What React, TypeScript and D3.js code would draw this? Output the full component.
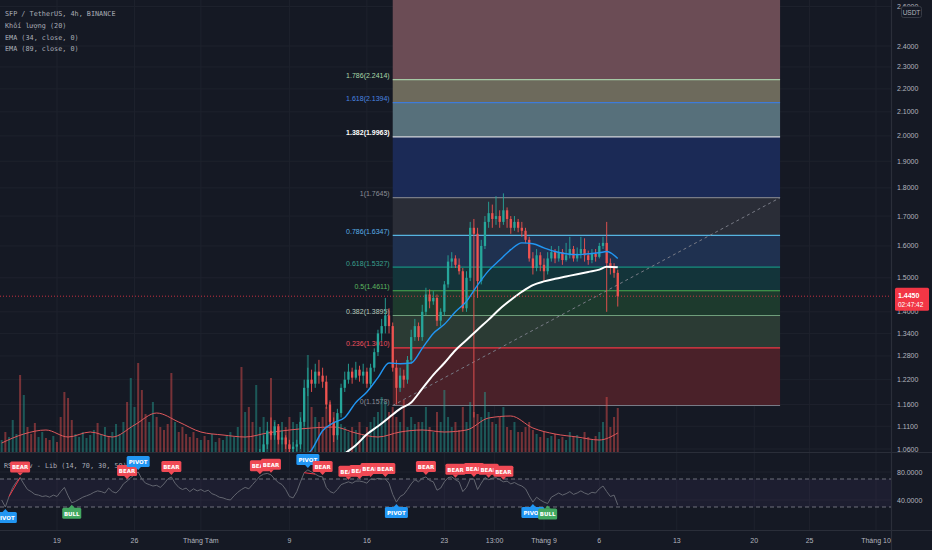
import React from "react";
import * as d3 from "d3";

// ---------- DATA ----------
const candleStart = new Date(2023, 6, 14, 0, 0);
const candleStepHours = 8;

// closes for every 8h candle (index 0..167); early ones sit below the visible price range
const closes = [
  0.975, 0.96, 0.99, 1.005, 1.01, 0.995, 1.0, 0.99, 0.985, 0.98,
  0.985, 0.99, 0.98, 0.975, 0.985, 0.98, 0.97, 0.965, 0.96, 0.955,
  0.965, 0.97, 0.975, 0.98, 0.985, 0.99, 0.985, 0.99, 0.995, 0.99,
  1.0, 1.01, 1.02, 1.03, 1.02, 1.035, 1.04, 1.03, 1.025, 1.02,
  1.03, 1.045, 1.04, 1.03, 1.02, 1.015, 1.01, 1.02, 1.015, 1.005,
  1.0, 0.995, 0.99, 0.985, 0.99, 0.98, 0.975, 0.98, 0.99, 0.985,
  0.995, 1.0, 1.01, 1.02, 1.035, 1.03,
  1.045, 1.04, 1.03, 1.035, 1.04, 1.07, 1.1, 1.09, 1.11, 1.08,
  1.085, 1.07, 1.06, 1.065, 1.07, 1.12, 1.2, 1.22, 1.21, 1.24,
  1.23, 1.215, 1.16, 1.12, 1.09, 1.14, 1.2, 1.22, 1.24, 1.225,
  1.245, 1.23, 1.24, 1.21, 1.25, 1.29, 1.34, 1.36, 1.39, 1.36,
  1.25, 1.2, 1.23, 1.22, 1.27, 1.33, 1.36, 1.33, 1.4, 1.45,
  1.43, 1.44, 1.375, 1.4, 1.48, 1.55, 1.56, 1.54, 1.52, 1.41,
  1.5, 1.66, 1.64, 1.49, 1.6, 1.68, 1.71, 1.69, 1.7, 1.68,
  1.72, 1.69, 1.66, 1.68, 1.66, 1.65, 1.62, 1.56, 1.53, 1.57,
  1.54, 1.52, 1.56, 1.58, 1.56, 1.58, 1.555, 1.57, 1.59, 1.56,
  1.575, 1.59, 1.57, 1.555, 1.575, 1.565, 1.6, 1.61, 1.545, 1.53,
  1.515, 1.445,
];

const firstVisible = 66;
// highs / lows for candles 66..167
const highs = [
  1.055, 1.05, 1.045, 1.045, 1.06, 1.09, 1.12, 1.13, 1.12, 1.115,
  1.1, 1.09, 1.08, 1.075, 1.08, 1.13, 1.22, 1.25, 1.245, 1.26,
  1.27, 1.25, 1.23, 1.17, 1.13, 1.15, 1.21, 1.24, 1.26, 1.25,
  1.265, 1.255, 1.26, 1.25, 1.26, 1.3, 1.35, 1.38, 1.44, 1.41,
  1.37, 1.27, 1.25, 1.245, 1.28, 1.35, 1.38, 1.37, 1.42, 1.47,
  1.465, 1.46, 1.45, 1.41, 1.49, 1.57, 1.58, 1.57, 1.56, 1.53,
  1.52, 1.68, 1.69, 1.66, 1.62, 1.7, 1.75, 1.74, 1.77, 1.72,
  1.78, 1.73, 1.7, 1.7, 1.69, 1.68, 1.66, 1.63, 1.58, 1.59,
  1.58, 1.56, 1.58, 1.6, 1.59, 1.6, 1.59, 1.61, 1.63, 1.6,
  1.595, 1.63, 1.625, 1.585, 1.59, 1.59, 1.61, 1.63, 1.68, 1.56,
  1.545, 1.525,
];
const lows = [
  1.03, 1.03, 1.02, 1.025, 1.02, 1.03, 1.06, 1.08, 1.08, 1.07,
  1.07, 1.06, 1.05, 1.05, 1.055, 1.06, 1.11, 1.18, 1.19, 1.2,
  1.21, 1.2, 1.15, 1.11, 1.075, 1.08, 1.13, 1.19, 1.21, 1.21,
  1.22, 1.215, 1.21, 1.2, 1.2, 1.24, 1.28, 1.32, 1.34, 1.34,
  1.24, 1.16, 1.19, 1.2, 1.21, 1.26, 1.32, 1.32, 1.32, 1.39,
  1.41, 1.42, 1.36, 1.36, 1.39, 1.47, 1.53, 1.53, 1.51, 1.4,
  1.4, 1.49, 1.13, 1.44, 1.48, 1.59, 1.66, 1.66, 1.67, 1.66,
  1.67, 1.66, 1.64, 1.65, 1.645, 1.63, 1.61, 1.55, 1.51, 1.52,
  1.52, 1.49, 1.51, 1.55, 1.545, 1.55, 1.54, 1.55, 1.56, 1.55,
  1.55, 1.56, 1.55, 1.54, 1.545, 1.55, 1.56, 1.59, 1.4, 1.51,
  1.5, 1.415,
];

// volume (thousand SFP) per candle
const volumes = [
  12, 20, 15, 32, 18, 77, 57, 25, 18, 29,
  15, 20, 14, 12, 16, 10, 35, 60, 54, 32,
  18, 15, 20, 14, 17, 22, 29, 18, 25, 15,
  20, 28, 18, 30, 50, 74, 45, 89, 62, 38,
  30, 50, 35, 25, 22, 28, 79, 30, 20, 25,
  18, 15, 20, 14, 12, 16, 12, 18, 10, 14,
  12, 16, 20, 15, 25, 85, 40, 45, 30, 67,
  25, 35, 20, 74, 32, 28, 30, 25, 35, 30,
  28, 40, 60, 97, 45, 35, 30, 35, 45, 50,
  40, 30, 28, 25, 20, 25, 22, 30, 18, 25,
  30, 35, 40, 55, 50, 40, 45, 35, 30, 52,
  25, 35, 28, 30, 30, 45, 25, 20, 40, 30,
  62, 35, 25, 30, 22, 45, 30, 50, 40, 38,
  35, 60, 40, 30, 28, 35, 45, 25, 22, 30,
  20, 20, 25, 30, 22, 18, 15, 20, 14, 16,
  18, 13, 15, 12, 20, 15, 17, 13, 20, 15,
  12, 16, 20, 30, 55, 25, 35, 44,
];

const volMaIdx = [0, 6, 12, 18, 24, 30, 36, 42, 48, 54, 60, 66, 72, 78, 84, 90, 96, 102, 108, 114, 120, 126, 132, 138, 144, 150, 156, 162, 167];
const volMa = [9, 18, 22, 15, 20, 15, 27, 39, 30, 20, 17, 15, 19, 22, 24, 25, 19, 15, 20, 22, 20, 22, 34, 36, 24, 18, 15, 12, 19];

const ema34Idx = [78, 81, 84, 87, 90, 93, 96, 99, 102, 105, 108, 111, 114, 117, 120, 123, 126, 129, 132, 135, 138, 141, 144, 147, 150, 153, 156, 159, 162, 164, 167];
const ema34 = [1.005, 1.036, 1.058, 1.1, 1.118, 1.13, 1.165, 1.19, 1.225, 1.262, 1.26, 1.262, 1.3, 1.34, 1.365, 1.4, 1.43, 1.478, 1.522, 1.555, 1.588, 1.61, 1.607, 1.594, 1.582, 1.575, 1.572, 1.575, 1.578, 1.582, 1.56];

const ema89Idx = [90, 93, 96, 99, 102, 105, 108, 111, 114, 117, 120, 123, 126, 129, 132, 135, 138, 141, 144, 147, 150, 153, 156, 159, 162, 164, 167];
const ema89 = [1.03, 1.05, 1.068, 1.092, 1.11, 1.13, 1.15, 1.165, 1.198, 1.232, 1.262, 1.295, 1.322, 1.35, 1.378, 1.408, 1.434, 1.458, 1.478, 1.489, 1.497, 1.504, 1.511, 1.518, 1.525, 1.534, 1.532];

const rsi = [
  40, 30, 45, 58, 66, 72, 63, 55, 52, 48,
  47, 45, 46, 44, 47, 45, 52, 58, 46, 36,
  38, 41, 44, 46, 48, 51, 53, 52, 50, 57,
  52, 50, 55, 63, 67, 72, 76, 80, 70, 64,
  62, 60, 61, 58, 63, 70, 73, 64, 58, 55,
  57, 52, 56, 53, 55, 52, 54, 49, 47, 44,
  43, 41, 40, 46, 51, 55, 58, 56, 62, 68,
  74, 77, 78, 76, 70, 65, 62, 55, 45, 43,
  52, 66, 79, 83, 80, 77, 74, 73, 58, 52,
  50, 55, 62, 64, 66, 64, 67, 67, 66, 64,
  70, 69, 71, 70, 70, 64, 48, 37, 45, 48,
  55, 63, 69, 66, 71, 73, 68, 66, 54, 57,
  66, 72, 73, 69, 66, 52, 58, 70, 70, 55,
  64, 72, 69, 71, 72, 69, 66, 67, 63, 65,
  62, 60, 56, 46, 37, 44, 40, 37, 35, 44,
  47, 50, 47, 49, 52, 48, 50, 53, 50, 48,
  51, 50, 56, 60, 52, 45, 47, 33,
];

const topLabelIdx = [5, 34, 37, 46, 70, 73, 83, 87, 94, 97, 100, 104, 115, 123, 128, 132, 136];
const topLabelText = ["BEAR", "BEAR", "PIVOT", "BEAR", "BEAR", "BEAR", "PIVOT", "BEAR", "BEAR", "BEAR", "BEAR", "BEAR", "BEAR", "BEAR", "BEAR", "BEAR", "BEAR"];
const bottomLabelIdx = [1, 19, 107, 144, 148];
const bottomLabelText = ["PIVOT", "BULL", "PIVOT", "PIVOT", "BULL"];
const divFrom = [2, 82];
const divTo = [5, 85];

const fibStart = new Date(2023, 7, 18, 8);
const fibEnd = new Date(2023, 8, 22, 8);
const fibRatios = [0, 0.236, 0.382, 0.5, 0.618, 0.786, 1, 1.382, 1.618, 1.786, 2.618];
const fibPrices = [1.1578, 1.301, 1.3895, 1.4611, 1.5327, 1.6347, 1.7645, 1.9963, 2.1394, 2.2414, 2.746];
const fibLineColors = ["#787b86", "#f23645", "#6f9e7b", "#4caf50", "#16917f", "#56b4e0", "#787b86", "#d6d8de", "#3f7bd8", "#a5c9a5", "#9c6b78"];
const fibLabelColors = ["#8b8e97", "#f0505e", "#b8cbbd", "#5cb860", "#3aa08e", "#5ab0e8", "#8b8e97", "#ffffff", "#4a86e0", "#a8d8a8", "#c08090"];
const fibFills = ["#4a2129", "#2b3b34", "#1d3a2d", "#13343a", "#1f3150", "#2a2d37", "#1b2a56", "#57707b", "#6d6a5c", "#6b4c55"];

const priceTicks = [2.6, 2.4, 2.3, 2.2, 2.1, 2.0, 1.9, 1.8, 1.7, 1.6, 1.5, 1.4, 1.34, 1.28, 1.22, 1.16, 1.11, 1.06];
const rsiTicks = [80, 40];
const timeTickDates = [
  new Date(2023, 6, 19), new Date(2023, 6, 26), new Date(2023, 7, 1), new Date(2023, 7, 9),
  new Date(2023, 7, 16), new Date(2023, 7, 23), new Date(2023, 7, 27, 13), new Date(2023, 8, 1),
  new Date(2023, 8, 6), new Date(2023, 8, 13), new Date(2023, 8, 20), new Date(2023, 8, 25), new Date(2023, 9, 1),
];
const timeTickLabels = ["19", "26", "Tháng Tám", "9", "16", "23", "13:00", "Tháng 9", "6", "13", "20", "25", "Tháng 10"];

const lastPrice = 1.445;
const countdown = "02:47:42";
const legendLines = ["SFP / TetherUS, 4h, BINANCE", "Khối lượng (20)", "EMA (34, close, 0)", "EMA (89, close, 0)"];
const rsiTitle = "RSI Div - Lib (14, 70, 30, 50)";

// ---------- STYLE ----------
const BG = "#151924";
const GRID = "#1e222d";
const SEP = "#2a2e39";
const TXT = "#b2b5be";
const UP = "#26a69a";
const DOWN = "#ef5350";
const MONO = "'DejaVu Sans Mono', 'Liberation Mono', monospace";
const SANS = "'Liberation Sans', Arial, sans-serif";

export default function App() {
  const W = 932, H = 550;
  const chartRight = 891;
  const priceBottom = 452;
  const rsiTop = 453, rsiBottom = 530;

  const x = d3.scaleTime().domain([new Date(2023, 6, 19), new Date(2023, 9, 1)]).range([57, 876]);
  const y = d3.scaleLog().domain([1.06, 2.4]).range([449, 46]);
  const yv = d3.scaleLinear().domain([0, 100]).range([priceBottom, priceBottom - 100]);
  const yr = d3.scaleLinear().domain([40, 80]).range([500, 472]);

  const tAt = (i: number) => new Date(candleStart.getTime() + i * candleStepHours * 3600e3);
  const cx = (i: number) => x(tAt(i));

  const fmt4 = d3.format(".4f");

  const ema34Path = d3.line<number>().x((_, k) => cx(ema34Idx[k])).y((v) => y(v)).curve(d3.curveMonotoneX)(ema34) || "";
  const ema89Path = d3.line<number>().x((_, k) => cx(ema89Idx[k])).y((v) => y(v)).curve(d3.curveMonotoneX)(ema89) || "";
  const volMaPath = d3.line<number>().x((_, k) => cx(volMaIdx[k])).y((v) => yv(v)).curve(d3.curveMonotoneX)(volMa) || "";
  const rsiPath = d3.line<number>().x((_, i) => cx(i)).y((v) => yr(v))(rsi) || "";

  const fx1 = x(fibStart), fx2 = x(fibEnd);

  const candles = closes.map((c, i) => {
    if (i < firstVisible) return null;
    const o = closes[i - 1];
    const h = highs[i - firstVisible];
    const l = lows[i - firstVisible];
    const up = c >= o;
    const xc = cx(i);
    const yTop = y(Math.max(o, c));
    const yBot = y(Math.min(o, c));
    const col = up ? UP : DOWN;
    return (
      <g key={"c" + i}>
        <line x1={xc} x2={xc} y1={y(h)} y2={y(l)} stroke={col} strokeWidth={0.9} />
        <rect x={xc - 1.15} width={2.3} y={yTop} height={Math.max(0.8, yBot - yTop)} fill={col} />
      </g>
    );
  });

  const volBars = volumes.map((v, i) => {
    const up = i === 0 ? true : closes[i] >= closes[i - 1];
    return (
      <rect key={"v" + i} x={cx(i) - 1} width={2} y={yv(v)} height={priceBottom - yv(v)}
        fill={up ? "rgba(38,166,154,0.45)" : "rgba(239,83,80,0.45)"} />
    );
  });

  const labelW = (t: string) => (t === "PIVOT" ? 23 : t === "BULL" ? 19 : 20);
  const labelColor = (t: string) => (t === "PIVOT" ? "#2196f3" : t === "BULL" ? "#43a861" : "#f04a55");

  const topLabels = topLabelIdx.map((idx, k) => {
    const t = topLabelText[k];
    const xc = cx(idx);
    const tip = yr(rsi[idx]) - 2;
    const w = labelW(t);
    const bTop = tip - 3 - 11;
    return (
      <g key={"tl" + k}>
        <path d={`M${xc - 3},${tip - 3.2} L${xc},${tip} L${xc + 3},${tip - 3.2} Z`} fill={labelColor(t)} />
        <rect x={xc - w / 2} y={bTop} width={w} height={11} rx={1.5} fill={labelColor(t)} />
        <text x={xc} y={bTop + 7.8} textAnchor="middle" fontFamily="'DejaVu Sans', sans-serif" fontWeight="bold" fontSize={5.5} fill="#ffffff">{t}</text>
      </g>
    );
  });
  const bottomLabels = bottomLabelIdx.map((idx, k) => {
    const t = bottomLabelText[k];
    const xc = cx(idx);
    const tip = yr(rsi[idx]) + 2;
    const w = labelW(t);
    const bTop = tip + 3;
    return (
      <g key={"bl" + k}>
        <path d={`M${xc - 3},${tip + 3.2} L${xc},${tip} L${xc + 3},${tip + 3.2} Z`} fill={labelColor(t)} />
        <rect x={xc - w / 2} y={bTop} width={w} height={11} rx={1.5} fill={labelColor(t)} />
        <text x={xc} y={bTop + 7.8} textAnchor="middle" fontFamily="'DejaVu Sans', sans-serif" fontWeight="bold" fontSize={5.5} fill="#ffffff">{t}</text>
      </g>
    );
  });

  const priceY = y(lastPrice);

  return (
    <div style={{ position: "fixed", left: 0, top: 0, width: W, height: H, background: BG }}>
      <svg width={W} height={H} style={{ display: "block" }}>
        <defs>
          <clipPath id="pricePane"><rect x={0} y={0} width={chartRight} height={priceBottom} /></clipPath>
          <clipPath id="rsiPane"><rect x={0} y={rsiTop} width={chartRight} height={rsiBottom - rsiTop} /></clipPath>
        </defs>
        <rect x={0} y={0} width={W} height={H} fill={BG} />

        {/* grid */}
        {timeTickDates.map((d, k) => (
          <line key={"gx" + k} x1={x(d)} x2={x(d)} y1={0} y2={rsiBottom} stroke={GRID} strokeWidth={1} />
        ))}
        {priceTicks.map((p, k) => (
          <line key={"gy" + k} x1={0} x2={chartRight} y1={y(p)} y2={y(p)} stroke={GRID} strokeWidth={1} />
        ))}
        {rsiTicks.map((v, k) => (
          <line key={"gr" + k} x1={0} x2={chartRight} y1={yr(v)} y2={yr(v)} stroke={GRID} strokeWidth={1} />
        ))}

        <g clipPath="url(#pricePane)">
          {/* fib fills */}
          {fibFills.map((c, k) => (
            <rect key={"ff" + k} x={fx1} width={fx2 - fx1} y={y(fibPrices[k + 1])}
              height={y(fibPrices[k]) - y(fibPrices[k + 1])} fill={c} />
          ))}
          {fibPrices.map((p, k) => (
            <line key={"fl" + k} x1={fx1} x2={fx2} y1={y(p)} y2={y(p)} stroke={fibLineColors[k]} strokeWidth={1.2} />
          ))}
          {fibPrices.map((p, k) =>
            y(p) > 8 ? (
              <text key={"ft" + k} x={fx1 - 3} y={y(p) - 1.5} textAnchor="end" fontFamily={SANS} fontSize={7}
                fontWeight={fibRatios[k] === 1.382 ? "bold" : "normal"} fill={fibLabelColors[k]}>
                {`${fibRatios[k]}(${fmt4(p)})`}
              </text>
            ) : null
          )}
          <line x1={fx1} y1={y(fibPrices[0])} x2={fx2} y2={y(fibPrices[6])} stroke="#787b86" strokeWidth={1} strokeDasharray="3,3" />

          {/* volume */}
          {volBars}
          <path d={volMaPath} fill="none" stroke="#e0585c" strokeWidth={1} />

          {/* candles */}
          {candles}

          {/* EMAs */}
          <path d={ema34Path} fill="none" stroke="#2196f3" strokeWidth={1.4} />
          <path d={ema89Path} fill="none" stroke="#ffffff" strokeWidth={2} />

          {/* last price line */}
          <line x1={0} x2={chartRight} y1={priceY} y2={priceY} stroke="#f23645" strokeWidth={0.8} strokeDasharray="1,2" />
        </g>

        {/* legend */}
        {legendLines.map((t, k) => (
          <text key={"lg" + k} x={5} y={16 + k * 11.8} fontFamily={MONO} fontSize={6.8} fill="#a9acb5">{t}</text>
        ))}

        {/* pane separators */}
        <line x1={0} x2={W} y1={priceBottom + 0.5} y2={priceBottom + 0.5} stroke={SEP} strokeWidth={1.2} />
        <line x1={0} x2={W} y1={rsiBottom + 0.5} y2={rsiBottom + 0.5} stroke={SEP} strokeWidth={1.2} />
        <line x1={chartRight + 0.5} x2={chartRight + 0.5} y1={0} y2={H} stroke={SEP} strokeWidth={1.2} />

        {/* RSI pane */}
        <g clipPath="url(#rsiPane)">
          <rect x={0} width={chartRight} y={yr(70)} height={yr(30) - yr(70)} fill="rgba(126,87,194,0.08)" />
          <line x1={0} x2={chartRight} y1={yr(70)} y2={yr(70)} stroke="#787b86" strokeWidth={0.9} strokeDasharray="4,3" />
          <line x1={0} x2={chartRight} y1={yr(30)} y2={yr(30)} stroke="#787b86" strokeWidth={0.9} strokeDasharray="4,3" />
          <path d={rsiPath} fill="none" stroke="#62656f" strokeWidth={1} />
          {divFrom.map((a, k) => (
            <line key={"dv" + k} x1={cx(a)} y1={yr(rsi[a])} x2={cx(divTo[k])} y2={yr(rsi[divTo[k]])} stroke="#f23645" strokeWidth={1} />
          ))}
          <text x={4} y={467.5} fontFamily={MONO} fontSize={6.8} fill="#a9acb5">{rsiTitle}</text>
          {topLabels}
          {bottomLabels}
        </g>

        {/* price axis */}
        {priceTicks.map((p, k) => (
          <text key={"pt" + k} x={897} y={y(p) + 2.5} fontFamily={SANS} fontSize={7} fill={TXT}>{fmt4(p)}</text>
        ))}
        {rsiTicks.map((v, k) => (
          <text key={"rt" + k} x={897} y={yr(v) + 2.5} fontFamily={SANS} fontSize={7} fill={TXT}>{fmt4(v)}</text>
        ))}
        <rect x={901.5} y={6.5} width={20} height={11} rx={2} fill={BG} stroke="#363a45" />
        <text x={911.5} y={14.5} textAnchor="middle" fontFamily={SANS} fontSize={6.5} fill={TXT}>USDT</text>

        {/* last price tag */}
        <rect x={895} y={priceY - 8.5} width={34} height={23} rx={1.5} fill="#f23645" />
        <text x={898} y={priceY + 1.5} fontFamily={SANS} fontSize={7} fontWeight="bold" fill="#ffffff">{fmt4(lastPrice)}</text>
        <text x={898} y={priceY + 11} fontFamily={SANS} fontSize={6.5} fill="#ffffff">{countdown}</text>

        {/* time axis */}
        {timeTickDates.map((d, k) => (
          <text key={"tt" + k} x={x(d)} y={543} textAnchor="middle" fontFamily={SANS} fontSize={7} fill={TXT}>{timeTickLabels[k]}</text>
        ))}
      </svg>
    </div>
  );
}
